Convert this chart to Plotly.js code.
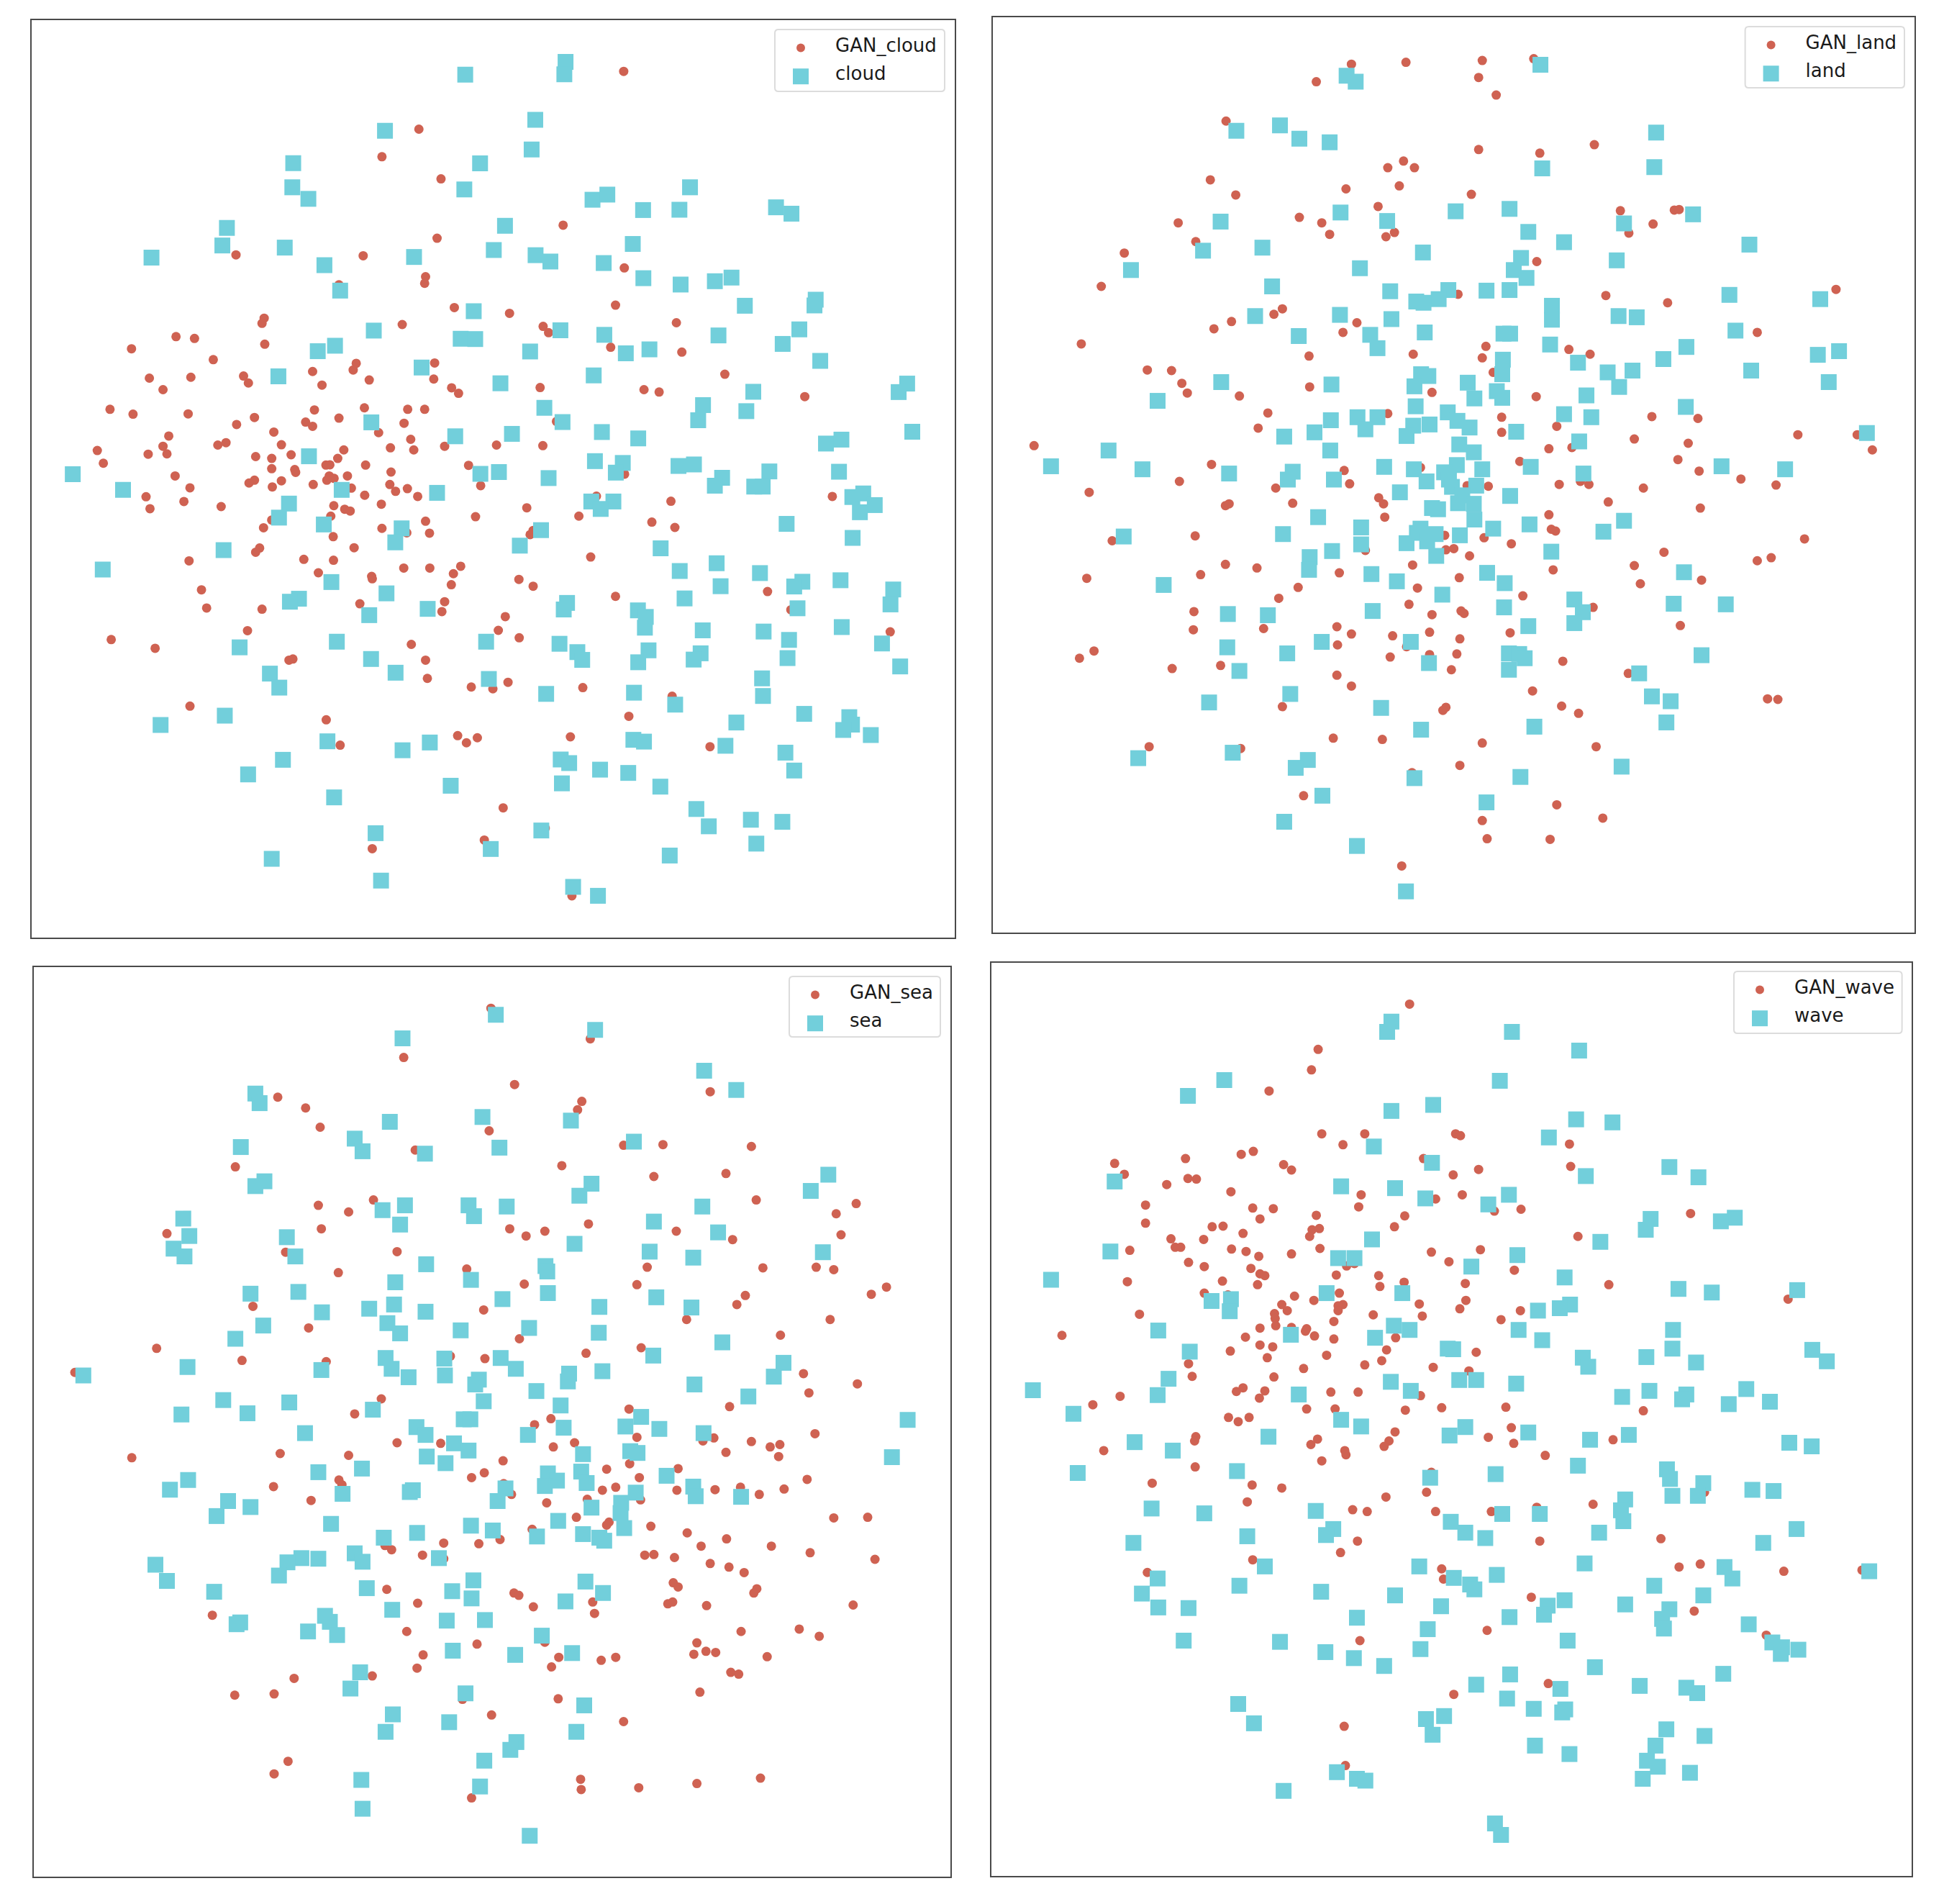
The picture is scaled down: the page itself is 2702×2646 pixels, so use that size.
<!DOCTYPE html>
<html><head><meta charset="utf-8">
<script src="https://cdn.plot.ly/plotly-3.0.1.min.js"></script>
<style>html,body{margin:0;padding:0;background:#fff}#chart{width:2702px;height:2646px}</style>
</head><body><div id="chart"></div>
<script>
var cloudFakeTL=[[1312,379],[1190,470],[1385,543],[1372,739],[708,794],[1128,797],[1334,866],[1331,888],[1048,893],[1429,968],[801,1003],[794,1020],[510,1064],[571,1070],[1257,1024],[803,1089],[363,1104],[633,1140],[1105,1152],[1095,1174],[1364,1151],[961,1179],[733,1194],[749,1217],[422,1201],[559,1198],[467,1239],[992,1224],[1148,1207],[1361,1204],[1420,1233],[1443,1251],[292,1304],[368,1320],[550,1319],[967,1306],[1132,1299],[1275,1304],[1331,1304],[769,1331],[710,1354],[938,1346],[961,1360],[1048,1333],[1263,1350],[833,1379],[1179,1381],[486,1392],[1285,1403],[467,1426],[648,1422],[675,1414],[858,1421],[1397,1426],[1218,1431],[250,1440],[1295,1438],[1064,1438],[418,1452],[480,1451],[890,1454],[773,1460],[826,1466],[1044,1466],[270,1482],[1005,1488],[1018,1487],[1136,1488],[1476,1489],[826,1500],[902,1503],[905,1512],[1220,1511],[507,1524],[1076,1524],[1016,1524],[1032,1532],[769,1538],[858,1540],[1008,1538]];
var cloudFakeBL=[[751,3],[963,8],[1216,8],[1516,12],[556,19],[828,16],[1089,20],[1133,44],[1235,31],[1274,22],[1308,48],[411,49],[536,65],[424,89],[659,82],[1188,74],[1031,79],[1067,91],[1085,97],[1021,114],[1499,116],[1334,131],[826,127],[799,153],[1190,155],[1272,170],[1347,171],[1029,183],[1098,220],[786,221],[773,235],[553,264],[932,259],[1030,262],[1262,288],[1348,288],[1450,282],[980,304],[1426,307],[1156,316],[1158,324],[1419,344],[594,361],[1117,408],[1397,401],[611,422],[794,426],[1388,434],[746,498],[296,528],[441,557],[1287,544],[1334,597],[883,597],[896,593],[1340,658],[1485,687],[556,751],[1006,797],[1052,882],[1440,850],[1469,874],[1505,857],[1158,1229],[1528,1200]];
var cloudFakeTR=[[444,188],[244,696],[446,837],[417,960],[67,987],[178,1030],[196,1051],[618,1018],[401,1099],[636,1115],[778,1188],[168,1232],[511,1239],[561,1247],[1042,1262],[222,1344],[24,1422],[177,1424],[447,1518]];
var cloudFakeBR=[[354,47],[600,64],[1133,48],[124,86],[296,114],[537,134],[613,152],[145,162],[135,176],[335,251],[98,326],[145,349],[417,383],[919,367],[996,428],[53,451],[30,497],[99,522],[1324,502],[62,671],[12,693],[309,689],[604,718],[461,785],[268,854],[729,887],[46,1092],[185,1160],[273,1387]];
var cloudRealTL=[[1465,199],[1200,384],[897,491],[1514,492],[894,571],[1462,578],[947,609],[678,705],[663,763],[869,770],[429,803],[1000,828],[1296,801],[1052,912],[1493,980],[1163,1044],[1450,1071],[1498,1072],[1035,1094],[978,1112],[848,1195],[1321,1166],[1155,1347],[1432,1393],[949,1459],[169,1518],[1515,1517]];
var cloudRealBL=[[335,26],[1057,26],[1372,36],[883,72],[850,119],[998,142],[1255,155],[1234,202],[667,228],[268,293],[1023,335],[1205,373],[916,391],[886,401],[1148,446],[1341,425],[1041,535],[720,554],[1534,535],[1154,593],[1235,639],[820,642],[851,689],[1543,660],[671,783],[459,814],[1010,869],[1258,899],[1348,873],[863,931],[748,980],[1417,1018],[1032,1057],[1169,1177],[826,1263],[1187,1336]];
var cloudRealTR=[[252,157],[248,198],[152,348],[140,446],[663,571],[341,612],[390,595],[508,646],[628,645],[947,637],[998,658],[52,698],[15,778],[474,758],[153,795],[202,816],[378,821],[509,871],[632,892],[745,881],[800,869],[844,962],[1078,942],[1074,961],[235,1043],[380,1058],[757,1060],[1024,1040],[969,1088],[135,1113],[451,1119],[529,1106],[1093,1144],[37,1218],[345,1192],[872,1246],[1380,1219],[1352,1247],[182,1299],[706,1290],[849,1310],[690,1340],[242,1346],[75,1385],[372,1379],[492,1400],[1112,1417],[1163,1404],[1397,1378],[349,1475],[441,1481],[625,1491],[676,1486],[32,1511],[418,1513],[196,1531],[925,1509],[769,1530],[1155,1510]];
var cloudRealBR=[[745,12],[875,15],[903,15],[1199,50],[1235,38],[1273,77],[1224,101],[337,65],[410,65],[368,90],[982,140],[171,161],[101,213],[1200,187],[566,222],[629,298],[751,272],[894,305],[764,349],[1034,334],[1007,350],[1160,329],[1334,360],[1325,410],[645,390],[257,405],[246,427],[491,430],[517,452],[514,488],[1018,423],[705,497],[906,501],[1164,486],[990,529],[232,542],[291,570],[307,596],[526,564],[492,604],[698,574],[675,595],[985,590],[1297,541],[1357,618],[901,658],[188,710],[478,706],[904,717],[614,746],[1040,777],[816,806],[1189,788],[1198,813],[1169,831],[1260,848],[476,864],[511,870],[780,884],[978,907],[236,930],[264,942],[366,964],[459,975],[1007,967],[240,1010],[565,1021],[684,1096],[725,1154],[864,1132],[968,1139],[172,1168],[5,1230],[882,1212],[596,1252],[277,1357],[359,1387]];

var landFake=[[905,85],[604,94],[694,91],[820,88],[814,116],[843,145],[546,123],[397,188],[1005,227],[814,235],[915,241],[690,254],[664,265],[708,265],[371,285],[683,295],[595,300],[413,310],[802,309],[648,329],[1048,336],[1137,335],[1145,334],[518,347],[555,356],[318,356],[1102,358],[568,375],[661,379],[675,372],[1062,373],[347,387],[229,406],[910,420],[191,461],[780,474],[1024,476],[1126,488],[1404,466],[490,498],[476,507],[406,519],[613,521],[377,531],[590,537],[1274,537],[158,556],[826,560],[963,565],[998,573],[534,576],[706,573],[820,579],[267,599],[307,600],[838,603],[324,621],[535,627],[333,637],[737,636],[419,642],[909,643],[664,671],[466,670],[852,677],[1100,676],[1176,679],[450,695],[943,692],[852,702],[1341,706],[1439,706],[1071,713],[1160,720],[80,724],[930,729],[968,727],[1464,731],[1143,747],[373,755],[882,750],[592,765],[718,760],[1178,766],[320,783],[1247,779],[982,783],[996,788],[601,787],[479,794],[947,788],[830,791],[1086,794],[795,790],[1305,789],[171,801],[649,810],[657,820],[507,819],[396,823],[402,820],[1028,817],[1180,827],[930,838],[659,842],[934,862],[941,865],[346,873],[209,881],[823,876],[758,872],[1352,878],[868,886],[627,897],[760,896],[773,894],[1120,900],[799,906],[1274,914],[1297,909],[396,920],[705,921],[1071,922],[448,926],[937,929],[584,934],[355,937],[782,942],[167,943],[1182,946],[1081,952],[516,958],[713,959],[887,972],[484,976],[699,986],[1003,991],[785,997],[790,1001],[344,998],[737,1003],[1147,1021],[459,1026],[343,1028],[580,1023],[733,1032],[604,1035],[672,1038],[866,1033],[783,1043],[581,1053],[695,1056],[733,1069],[179,1063],[155,1075],[668,1073],[778,1068],[953,1080],[388,1087],[308,1092],[769,1094],[1061,1100],[580,1103],[604,1121],[903,1129],[490,1155],[760,1156],[755,1161],[951,1154],[979,1166],[1291,1142],[1308,1143],[574,1207],[655,1209],[820,1215],[270,1221],[421,1224],[1008,1221],[783,1252],[704,1264],[525,1302],[943,1317],[1019,1339],[820,1343],[828,1373],[932,1374],[687,1418]];
var landReal=[[916,95],[596,113],[611,123],[414,204],[486,195],[518,217],[568,223],[1107,207],[919,266],[1104,264],[776,337],[865,333],[586,339],[663,353],[388,354],[1054,357],[1168,342],[896,371],[955,388],[359,402],[457,397],[1261,392],[722,405],[884,414],[1042,418],[240,434],[618,431],[872,434],[893,447],[473,461],[668,469],[827,468],[865,467],[764,467],[748,482],[711,486],[723,488],[1228,475],[1378,482],[935,493],[935,516],[445,510],[585,508],[670,515],[1045,510],[1075,512],[517,543],[635,541],[725,537],[855,539],[866,539],[1238,534],[932,557],[647,563],[1157,561],[1409,568],[1374,574],[854,582],[1119,581],[978,587],[719,606],[731,609],[853,606],[1027,603],[1068,600],[1264,600],[389,619],[571,623],[708,626],[796,620],[1392,619],[844,634],[1046,627],[284,650],[853,645],[807,646],[992,641],[710,659],[1156,660],[763,669],[955,672],[570,682],[614,677],[647,677],[779,683],[1000,677],[627,697],[706,691],[733,689],[799,694],[876,701],[493,709],[543,702],[695,708],[1455,703],[980,717],[782,722],[569,732],[806,735],[203,732],[108,758],[658,759],[259,763],[707,763],[778,756],[820,763],[900,759],[1215,758],[1320,763],[402,770],[507,767],[499,780],[575,780],[757,768],[765,780],[728,783],[987,770],[770,792],[810,790],[684,801],[787,806],[866,807],[780,819],[806,820],[737,827],[747,829],[549,842],[807,846],[620,859],[838,861],[718,861],[712,868],[898,854],[1054,848],[1020,866],[491,870],[228,874],[743,870],[783,872],[729,882],[695,885],[620,887],[572,898],[934,899],[535,908],[744,906],[534,929],[637,936],[828,934],[1153,933],[679,948],[857,951],[294,954],[754,970],[972,978],[1136,985],[1222,986],[639,997],[856,991],[986,999],[400,1002],[466,1004],[972,1017],[896,1022],[555,1048],[702,1048],[399,1057],[498,1067],[864,1067],[881,1068],[890,1075],[732,1083],[1182,1070],[419,1096],[864,1094],[1079,1100],[503,1134],[1100,1138],[1131,1146],[369,1148],[653,1157],[1124,1181],[719,1193],[906,1188],[408,1231],[252,1240],[532,1243],[512,1256],[1050,1254],[708,1273],[883,1271],[556,1302],[827,1313],[493,1345],[613,1385],[694,1460]];

var seaFake=[[775,85],[939,136],[631,167],[814,212],[1137,224],[423,233],[925,240],[918,254],[469,251],[493,283],[772,289],[650,321],[994,313],[1059,312],[1205,315],[353,349],[892,347],[1044,365],[1163,360],[581,404],[1213,404],[1378,410],[490,413],[540,424],[1345,427],[936,444],[495,452],[806,452],[864,456],[833,464],[1081,456],[240,460],[1353,462],[1174,470],[436,491],[620,490],[523,525],[735,519],[1033,516],[1224,517],[1312,516],[1341,520],[830,544],[1016,545],[1428,549],[1403,561],[1195,563],[1181,578],[382,581],[763,587],[1098,603],[1335,603],[474,617],[1253,629],[822,635],[223,651],[1023,650],[932,659],[503,673],[364,671],[708,664],[765,668],[1291,693],[88,691],[1380,710],[1300,725],[594,735],[1003,752],[1169,748],[550,760],[874,768],[847,778],[1016,799],[1143,800],[1125,805],[1310,793],[1205,806],[1252,811],[1236,815],[692,809],[620,808],[913,808],[878,815],[1163,824],[427,826],[540,829],[1250,831],[182,833],[795,838],[1004,843],[1084,851],[966,852],[764,858],[743,866],[524,870],[1020,866],[1297,869],[529,878],[416,881],[981,882],[796,876],[959,887],[1082,887],[1145,886],[1187,882],[1259,885],[1218,894],[809,894],[478,904],[867,908],[934,902],[1022,903],[916,932],[970,940],[966,945],[1341,933],[1397,932],[1039,947],[843,952],[1099,958],[1164,968],[790,969],[697,975],[755,976],[1122,980],[1238,980],[600,979],[611,986],[1029,995],[1044,994],[662,995],[697,1001],[1078,999],[1302,991],[1409,1002],[1137,1009],[1168,1015],[1193,1024],[603,1052],[1076,1041],[1084,1048],[1214,1051],[1209,1058],[813,1058],[821,1062],[943,1073],[1067,1076],[1075,1073],[654,1075],[845,1081],[1131,1079],[1373,1078],[315,1095],[946,1092],[1188,1122],[1284,1118],[1317,1130],[636,1122],[864,1140],[752,1143],[1115,1141],[1130,1155],[1146,1157],[1110,1160],[663,1161],[887,1165],[981,1165],[957,1170],[1231,1164],[875,1181],[653,1183],[1171,1190],[1184,1193],[450,1200],[579,1196],[352,1228],[417,1226],[1120,1223],[728,1235],[886,1234],[776,1261],[994,1272],[440,1338],[417,1359],[923,1368],[1220,1366],[1115,1375],[924,1385],[1019,1382],[743,1399]];
var seaReal=[[783,96],[947,121],[629,135],[1127,189],[1180,221],[386,227],[393,243],[761,266],[608,274],[907,272],[550,302],[563,323],[1011,307],[362,316],[666,327],[789,317],[401,373],[386,381],[941,377],[1332,362],[1303,389],[921,397],[596,421],[633,413],[738,413],[747,431],[801,415],[1124,415],[267,435],[625,445],[1044,440],[277,464],[438,466],[1150,458],[913,477],[251,485],[269,498],[452,498],[1037,490],[1109,500],[1323,491],[668,511],[865,514],[868,523],[617,541],[742,537],[378,560],[457,557],[869,559],[794,569],[1048,566],[574,585],[615,578],[496,591],[667,590],[954,582],[1106,583],[399,613],[604,609],[625,626],[725,621],[838,617],[953,625],[353,635],[1157,641],[601,667],[698,668],[791,667],[1043,663],[274,682],[611,685],[495,687],[816,685],[1258,675],[102,696],[639,699],[699,696],[755,703],[749,711],[904,693],[902,706],[959,689],[1242,698],[1111,711],[850,722],[333,737],[442,741],[763,739],[890,746],[1200,731],[264,761],[373,759],[580,753],[730,769],[741,769],[1023,765],[1463,770],[652,782],[895,783],[997,781],[468,792],[667,795],[836,795],[1053,785],[1126,792],[714,809],[738,821],[927,827],[1005,822],[1017,825],[669,831],[1437,832],[700,842],[490,857],[562,851],[924,856],[869,859],[1065,863],[884,871],[864,880],[933,875],[275,870],[245,886],[641,890],[646,887],[799,884],[1109,881],[530,893],[1014,891],[1113,897],[1188,898],[341,905],[786,905],[941,916],[990,908],[378,915],[322,930],[989,925],[886,938],[511,943],[742,946],[995,950],[778,954],[653,958],[598,966],[851,964],[927,960],[954,966],[962,971],[550,992],[462,1000],[490,1001],[439,1007],[563,1006],[689,1000],[425,1029],[221,1011],[240,1038],[746,1037],[931,1039],[318,1056],[570,1050],[711,1055],[960,1058],[743,1067],[898,1072],[612,1086],[501,1096],[509,1106],[361,1107],[355,1110],[702,1104],[765,1103],[473,1122],[521,1128],[859,1129],[712,1154],[909,1158],[815,1161],[559,1190],[543,1217],[733,1225],[929,1245],[613,1260],[706,1273],[601,1289],[916,1289],[817,1306],[807,1319],[764,1337],[561,1369],[757,1380],[563,1417],[839,1462]];

var waveFake=[[700,84],[549,159],[538,193],[468,228],[555,299],[626,299],[776,299],[784,302],[590,317],[964,316],[442,328],[422,333],[330,340],[213,348],[492,350],[723,340],[505,359],[966,353],[814,358],[229,366],[772,367],[334,373],[348,374],[299,383],[405,395],[620,400],[787,400],[743,407],[264,417],[441,422],[475,423],[616,420],[884,424],[840,427],[546,434],[692,435],[1164,431],[453,440],[264,447],[374,453],[392,452],[539,458],[551,456],[675,453],[425,464],[535,469],[306,473],[360,474],[978,469],[313,487],[322,487],[238,492],[406,490],[430,494],[552,489],[451,502],[505,498],[736,495],[817,491],[335,512],[765,511],[361,519],[438,522],[453,531],[461,534],[596,518],[609,514],[873,525],[579,533],[649,534],[234,544],[391,543],[449,549],[691,545],[792,547],[651,552],[1029,549],[361,563],[400,566],[584,563],[510,568],[542,575],[793,575],[590,582],[582,584],[489,582],[716,581],[498,592],[582,592],[1325,573],[883,592],[783,589],[254,598],[477,597],[478,605],[640,599],[721,601],[575,610],[851,607],[479,617],[453,621],[505,620],[530,622],[528,626],[126,633],[429,636],[543,634],[575,639],[677,637],[453,649],[474,652],[662,657],[404,659],[810,661],[563,666],[465,670],[654,675],[335,680],[626,682],[525,688],[739,686],[798,692],[341,701],[476,702],[425,720],[414,726],[461,725],[570,727],[615,727],[718,733],[222,734],[452,737],[177,748],[530,755],[577,755],[753,753],[693,757],[859,752],[1086,758],[401,769],[435,769],[417,776],[868,786],[676,793],[347,801],[345,808],[548,805],[830,802],[1036,806],[537,814],[666,808],[658,817],[872,812],[195,824],[593,824],[595,831],[924,832],[555,841],[346,851],[736,860],[275,878],[440,881],[489,886],[728,893],[1187,893],[661,901],[432,909],[606,922],[630,925],[743,925],[835,925],[910,918],[1003,913],[614,974],[915,974],[1115,970],[586,993],[441,1005],[1145,1017],[1180,1012],[1318,1024],[1447,1022],[753,1020],[756,1037],[267,1026],[901,1067],[1170,1090],[828,1122],[1289,1130],[618,1139],[929,1210],[773,1228],[592,1281],[594,1346]];
var waveReal=[[670,113],[663,130],[869,130],[980,161],[394,210],[334,236],[849,211],[739,251],[670,261],[975,275],[1035,280],[930,305],[641,320],[737,347],[1129,354],[991,369],[1177,371],[213,378],[587,386],[676,389],[864,400],[726,406],[830,416],[1098,440],[1237,438],[1214,444],[1090,458],[638,474],[1015,478],[206,494],[582,505],[609,505],[878,500],[802,519],[108,541],[956,537],[563,563],[688,563],[1144,556],[1199,562],[1340,558],[373,576],[405,573],[403,593],[965,582],[948,588],[912,592],[1135,624],[285,625],[674,617],[700,624],[880,624],[504,632],[643,637],[919,641],[1134,655],[763,655],[772,656],[337,660],[1365,657],[1091,669],[986,670],[995,685],[1173,678],[1389,676],[302,705],[782,707],[810,707],[669,710],[876,713],[78,724],[702,725],[1096,725],[1157,731],[1256,722],[284,732],[517,731],[1051,735],[1150,739],[1227,747],[1295,743],[145,763],[587,773],[620,784],[792,785],[766,799],[467,801],[896,794],[998,806],[1062,798],[246,810],[309,824],[1327,811],[1364,817],[978,849],[1125,855],[415,858],[152,861],[842,863],[734,869],[1130,871],[1185,878],[1266,889],[1301,891],[1134,899],[1176,899],[1056,905],[274,920],[545,924],[361,928],[1049,923],[853,929],[915,929],[768,942],[1053,941],[574,954],[562,964],[792,960],[825,969],[1013,960],[432,966],[1339,954],[244,977],[1284,977],[989,1011],[461,1016],[716,1016],[1220,1017],[1233,1036],[284,1036],[844,1030],[773,1035],[419,1048],[800,1046],[807,1054],[1104,1048],[258,1061],[554,1058],[676,1064],[1185,1064],[1459,1024],[956,1072],[928,1081],[1056,1079],[752,1082],[285,1084],[335,1085],[1129,1087],[1117,1103],[922,1096],[865,1100],[613,1101],[1260,1112],[1120,1119],[730,1120],[327,1139],[486,1141],[961,1139],[1299,1142],[1315,1150],[1342,1154],[1313,1161],[718,1153],[561,1158],[608,1168],[658,1181],[1006,1183],[866,1195],[1218,1194],[810,1212],[1080,1214],[949,1219],[1157,1217],[1175,1226],[861,1235],[417,1244],[957,1253],[952,1258],[905,1252],[727,1269],[757,1264],[443,1276],[1124,1286],[738,1295],[1187,1297],[1106,1313],[907,1313],[964,1327],[1092,1338],[1110,1348],[580,1357],[1163,1358],[613,1368],[627,1371],[1085,1368],[492,1388],[841,1442],[851,1461]];

var fakeNames=['GAN_cloud','GAN_land','GAN_sea','GAN_wave'];
var realNames=['cloud','land','sea','wave'];

// the first panel was read in four crops; bring them to one reading scale (page pixels)
function crop(list,x0,y0,ky){return list.map(function(p){return [x0+p[0]/2.3758,y0+p[1]*ky];});}
var cloudFake=[].concat(crop(cloudFakeTL,30,20,.4209),crop(cloudFakeBL,30,670,.4145),crop(cloudFakeTR,680,20,.4209),crop(cloudFakeBR,680,670,.4145));
var cloudReal=[].concat(crop(cloudRealTL,30,20,.4209),crop(cloudRealBL,30,670,.4145),crop(cloudRealTR,680,20,.4209),crop(cloudRealBR,680,670,.4145));
var fakes=[cloudFake,landFake,seaFake,waveFake], reals=[cloudReal,landReal,seaReal,waveReal];

var W=2702,H=2646;
// frame of each panel in page pixels, with its reading-unit ranges
var frames=[
 {l:43.5,r:1326.5,t:27.6,b:1303,xr:[43.5,1326.5],yr:[1303,27.6],leg:[1077,1313,41,127]},
 {l:1380,r:2660.5,t:23.5,b:1296,xr:[12,1533],yr:[1528,16],leg:[2425.6,2647,37,122]},
 {l:46.8,r:1320.5,t:1343.5,b:2608,xr:[20,1533],yr:[1530,16],leg:[1097,1307,1357,1441]},
 {l:1378.4,r:2657,t:1337.6,b:2607,xr:[10,1529],yr:[1529,15],leg:[2410,2643.6,1350,1436]}
];
var red='#CF6252', teal='#72CFDB';
var traces=[], layout={width:W,height:H,margin:{l:0,r:0,t:0,b:0},paper_bgcolor:'#fff',plot_bgcolor:'#fff',showlegend:true,shapes:[],
  font:{family:'"DejaVu Sans",sans-serif',size:26,color:'#1a1a1a'}};
frames.forEach(function(f,i){
  var s=i?String(i+1):'', lg='legend'+s;
  traces.push({type:'scatter',mode:'markers',name:fakeNames[i],x:fakes[i].map(function(p){return p[0];}),y:fakes[i].map(function(p){return p[1];}),xaxis:'x'+s,yaxis:'y'+s,legend:lg,legendgroup:fakeNames[i],marker:{symbol:'circle',size:13,color:red,line:{width:0}}});
  traces.push({type:'scatter',mode:'markers',name:realNames[i],x:reals[i].map(function(p){return p[0];}),y:reals[i].map(function(p){return p[1];}),xaxis:'x'+s,yaxis:'y'+s,legend:lg,legendgroup:realNames[i],marker:{symbol:'square',size:22,color:teal,line:{width:0}}});
  var ax={showline:true,mirror:true,linecolor:'#4a4a4a',linewidth:2,showticklabels:false,ticks:'',showgrid:false,zeroline:false,fixedrange:true};
  layout['xaxis'+s]=Object.assign({},ax,{domain:[f.l/W,f.r/W],range:f.xr,anchor:'y'+s});
  layout['yaxis'+s]=Object.assign({},ax,{domain:[1-f.b/H,1-f.t/H],range:f.yr,anchor:'x'+s});
  layout[lg]={x:f.leg[0]/W,y:1-(f.leg[2]-3)/H,xanchor:'left',yanchor:'top',bgcolor:'rgba(0,0,0,0)',borderwidth:0,itemwidth:74,traceorder:'grouped',tracegroupgap:3,font:{family:'"DejaVu Sans",sans-serif',size:26,color:'#1a1a1a'}};
  // rounded legend box
  var a=f.leg[0],b=f.leg[1],c=f.leg[2],d=f.leg[3],r=5;
  var X=function(v){return (v/W).toFixed(5);},Y=function(v){return (1-v/H).toFixed(5);};
  layout.shapes.push({type:'path',xref:'paper',yref:'paper',line:{color:'#dcdcdc',width:2},fillcolor:'rgba(255,255,255,0.8)',layer:'above',
    path:'M'+X(a+r)+','+Y(c)+' L'+X(b-r)+','+Y(c)+' Q'+X(b)+','+Y(c)+' '+X(b)+','+Y(c+r)+' L'+X(b)+','+Y(d-r)+' Q'+X(b)+','+Y(d)+' '+X(b-r)+','+Y(d)+' L'+X(a+r)+','+Y(d)+' Q'+X(a)+','+Y(d)+' '+X(a)+','+Y(d-r)+' L'+X(a)+','+Y(c+r)+' Q'+X(a)+','+Y(c)+' '+X(a+r)+','+Y(c)+' Z'});
});
Plotly.newPlot('chart',traces,layout,{displayModeBar:false,staticPlot:true}).then(function(){
  // legend markers: the library caps them at 16 px, the reference squares are 22 px
  document.querySelectorAll('#chart .legendpoints path').forEach(function(p){
    var big=(p.getAttribute('d')||'').indexOf('A')<0;
    p.setAttribute('transform','translate(36,5)'+(big?' scale(1.375)':' scale(0.92)'));
  });
});
</script></body></html>
